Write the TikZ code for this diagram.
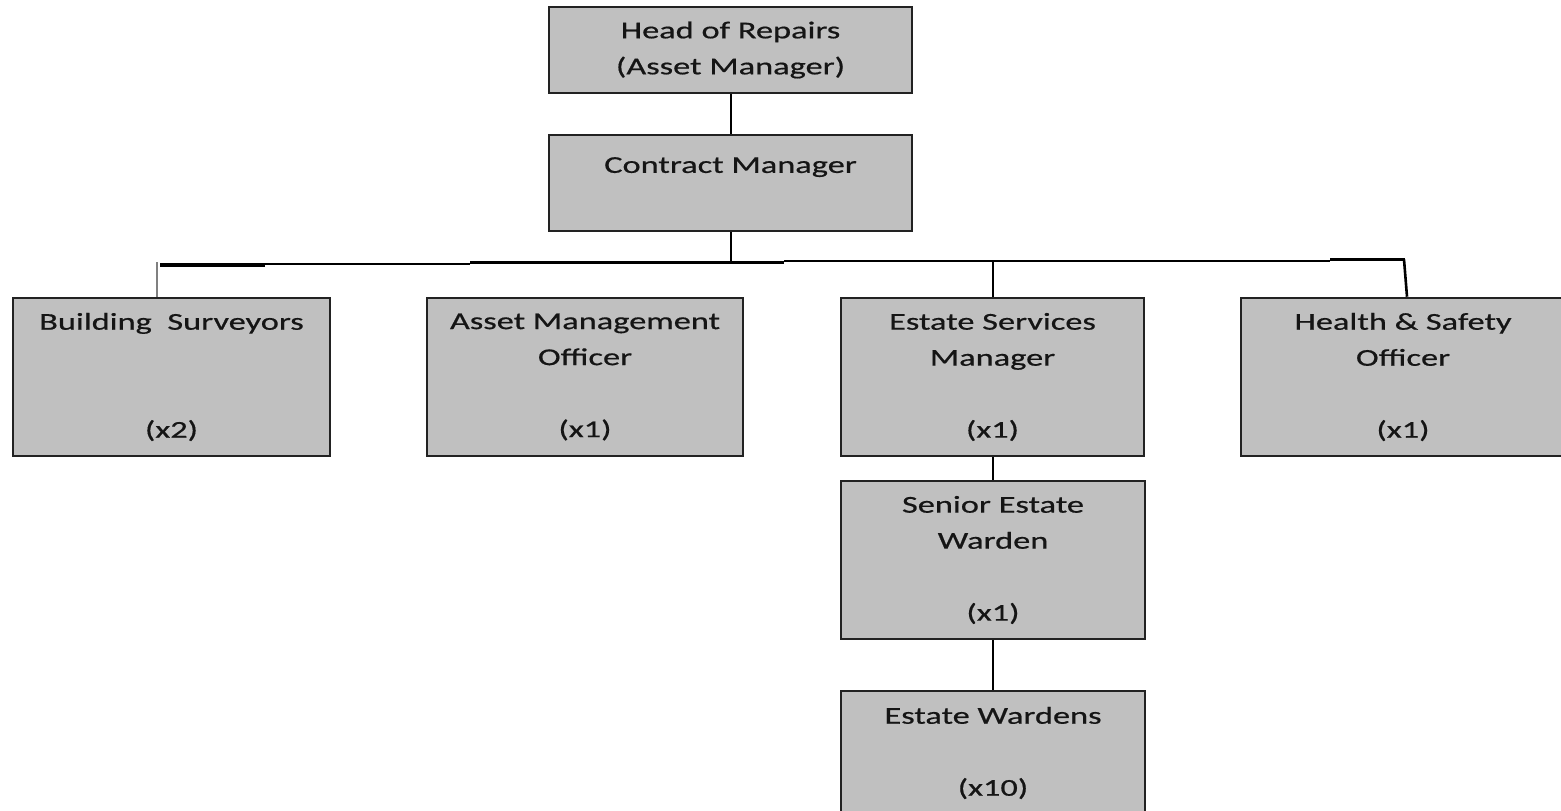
\documentclass[tikz,border=0pt]{standalone}
\usepackage{fontspec}
\setmainfont[FakeStretch=1.42,FakeBold=0.6]{Carlito}
\usetikzlibrary{calc,backgrounds}
\definecolor{boxgray}{HTML}{C0C0C0}
\definecolor{boxedge}{HTML}{222222}
\definecolor{inkgray}{HTML}{151515}
\begin{document}
\begin{tikzpicture}[x=0.5pt,y=-0.5pt,
  role/.style={draw=boxedge, line width=1.3pt, fill=boxgray, text=inkgray,
    align=center, inner sep=0pt, font=\fontsize{12.1pt}{18pt}\selectfont},
  wide/.style={minimum width=181.5pt},
  unit/.style={minimum width=158pt, minimum height=79pt},
  link/.style={draw=black, line width=1.3pt},
  thinlink/.style={draw=black, line width=1pt},
  boldlink/.style={draw=black, line width=2pt},
  greylink/.style={draw=black!50, line width=1pt}]
\useasboundingbox (0,0) rectangle (1561,810);
\clip (0,0) rectangle (1561,810);

% management chain
\node[role, wide, minimum height=43pt] (head) at (730.5,50) {Head of Repairs\\(Asset Manager)};
\node[role, wide, minimum height=48pt] (cm) at (730.5,183) {Contract Manager\\ };

% departments
\node[role, unit, minimum width=158.5pt] (bs) at (171.5,377) {Building\ \ Surveyors\\ \\ \\(x2)};
\node[role, unit] (amo) at (585,377) {Asset Management\\Officer\\ \\(x1)};
\node[role, unit, minimum width=151.5pt] (esm) at (992.5,377) {Estate Services\\Manager\\ \\(x1)};
\node[role, unit, minimum width=162pt] (hs) at (1403,377) {Health \& Safety\\Officer\\ \\(x1)};

% estate wardens line
\node[role, unit, minimum width=152pt] (sew) at (993,560) {Senior Estate\\Warden\\ \\(x1)};
\node[role, minimum width=152pt, minimum height=62pt] (ew) at (993,753) {Estate Wardens\\ \\(x10)};

% bus joints
\coordinate (busA) at (160,264.5);
\coordinate (busB) at (265,264.5);
\coordinate (busC) at (265,263.5);
\coordinate (busD) at (470,263.5);
\coordinate (busE) at (470,262.7);
\coordinate (busF) at (784,262.7);
\coordinate (busG) at (784,261);
\coordinate (busH) at (1330,261);
\coordinate (busI) at (1330,259.5);
\coordinate (busJ) at (1405,259.5);

\begin{scope}[on background layer]
  \draw[thinlink] (head.south) -- (cm.north);
  \draw[thinlink] (cm.south) -- (cm.south |- busF);
  \draw[boldlink] (busA) -- (busB);
  \draw[thinlink] (busC) -- (busD);
  \draw[link] (busE) -- (busF);
  \draw[thinlink] (busG) -- (busH);
  \draw[link, line width=1.6pt] (busI) -- (busJ);
  \draw[greylink] ($(bs.north)+(-15,0)$) -- ($(bs.north)+(-15,-35)$);
  \draw[link] ($(amo.north)+(-19.5,0)$) -- ($(amo.north)+(-19.5,0)$ |- busE);
  \draw[link] (sew.north |- esm.north) -- (sew.north |- busG);
  \draw[link] ($(busJ)+(-1,0)$) -- ($(hs.north)+(4,0)$);
  \draw[link] (sew.north |- esm.south) -- (sew.north);
  \draw[link] (sew.south) -- (ew.north);
\end{scope}
\end{tikzpicture}
\end{document}
